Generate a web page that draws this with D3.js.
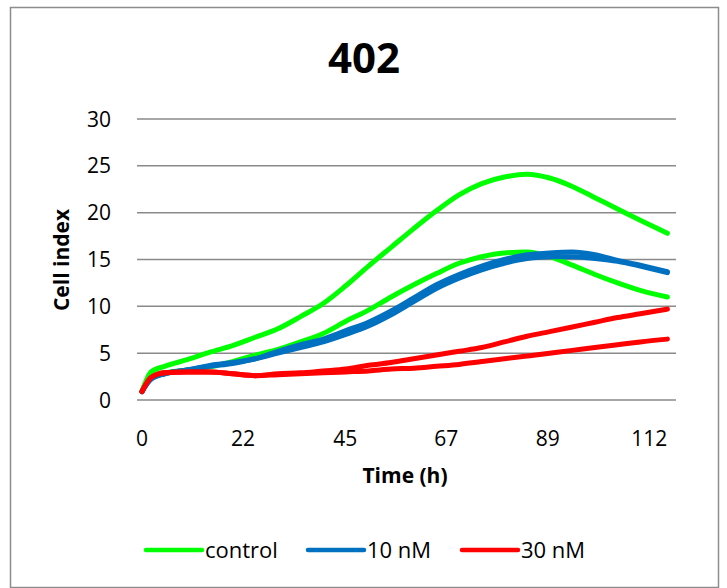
<!DOCTYPE html>
<html>
<head>
<meta charset="utf-8">
<script src="https://cdn.jsdelivr.net/npm/d3@7"></script>
<style>
  body { margin: 0; background: #fff; }
  text { font-family: "Open Sans", sans-serif; fill: #000; }
</style>
</head>
<body>
<div id="chart"></div>
<script>
// time points (h) and cell index readings, two wells per condition
const hours = [0, 2, 5, 10, 15, 20, 25, 30, 35, 40, 45, 50, 55, 60, 65, 70, 75, 80, 85, 90, 95, 100, 105, 110, 116];

const control1 = [0.9, 3.0, 3.6, 4.3, 5.1, 5.8, 6.7, 7.6, 8.9, 10.3, 12.2, 14.3, 16.3, 18.3, 20.2, 21.9, 23.1, 23.8, 24.1, 23.7, 22.8, 21.6, 20.4, 19.2, 17.8];
const control2 = [0.9, 2.6, 2.9, 3.2, 3.55, 4.1, 4.8, 5.4, 6.2, 7.1, 8.4, 9.6, 11.0, 12.3, 13.5, 14.6, 15.3, 15.7, 15.8, 15.3, 14.4, 13.4, 12.5, 11.7, 11.0];
const nm10a = [0.9, 2.2, 2.8, 3.2, 3.7, 4.0, 4.4, 5.2, 5.9, 6.5, 7.4, 8.3, 9.5, 10.9, 12.3, 13.4, 14.3, 15.0, 15.5, 15.7, 15.8, 15.5, 14.9, 14.4, 13.7];
const nm10b = [0.9, 2.3, 2.8, 3.2, 3.6, 3.9, 4.4, 5.0, 5.6, 6.2, 7.0, 7.9, 9.1, 10.5, 11.9, 13.0, 13.9, 14.6, 15.1, 15.3, 15.3, 15.1, 14.8, 14.3, 13.6];
const nm30a = [0.9, 2.4, 2.9, 3.0, 3.0, 2.8, 2.6, 2.8, 2.9, 3.1, 3.3, 3.7, 4.0, 4.4, 4.8, 5.2, 5.6, 6.2, 6.8, 7.3, 7.8, 8.3, 8.8, 9.2, 9.7];
const nm30b = [0.9, 2.4, 2.9, 3.0, 3.0, 2.8, 2.6, 2.7, 2.8, 2.9, 3.0, 3.1, 3.3, 3.4, 3.6, 3.8, 4.1, 4.4, 4.7, 5.0, 5.3, 5.6, 5.9, 6.2, 6.5];

const xTickHours = [0, 22.3, 44.9, 67.2, 89.6, 112];
const xTickLabels = ["0", "22", "45", "67", "89", "112"];
const yTicks = [0, 5, 10, 15, 20, 25, 30];

const legendNames = ["control", "10 nM", "30 nM"];
const colors = ["#00ff00", "#0070c0", "#ff0000"];

const series = [
  {values: control1, group: 0},
  {values: control2, group: 0},
  {values: nm10a, group: 1},
  {values: nm10b, group: 1},
  {values: nm30a, group: 2},
  {values: nm30b, group: 2}
];

const width = 727;
const height = 588;

const svg = d3.select("#chart")
  .append("svg")
  .attr("width", width)
  .attr("height", height);

// outer chart frame
svg.append("rect")
  .attr("x", 10.5)
  .attr("y", 7.5)
  .attr("width", 708)
  .attr("height", 580)
  .attr("fill", "#fff")
  .attr("stroke", "#8c8c8c")
  .attr("stroke-width", 1.5);

const xScale = d3.scaleLinear()
  .domain([-1.1, 117.9])
  .range([137, 676]);

const yScale = d3.scaleLinear()
  .domain([0, 30])
  .range([400, 119]);

// gridlines
svg.append("g")
  .selectAll("line")
  .data(yTicks)
  .enter()
  .append("line")
  .attr("x1", xScale.range()[0])
  .attr("x2", xScale.range()[1])
  .attr("y1", d => yScale(d))
  .attr("y2", d => yScale(d))
  .attr("stroke", "#8a8a8a")
  .attr("stroke-width", 1.5);

// y axis labels
svg.append("g")
  .selectAll("text")
  .data(yTicks)
  .enter()
  .append("text")
  .attr("x", 111)
  .attr("y", d => yScale(d))
  .attr("dy", "0.36em")
  .attr("text-anchor", "end")
  .style("font-size", "21px")
  .text(d => d);

// x axis labels
svg.append("g")
  .selectAll("text")
  .data(xTickHours)
  .enter()
  .append("text")
  .attr("x", d => xScale(d))
  .attr("y", 446)
  .attr("text-anchor", "middle")
  .style("font-size", "21px")
  .text((d, i) => xTickLabels[i]);

const line = d3.line()
  .x((d, i) => xScale(hours[i]))
  .y(d => yScale(d))
  .curve(d3.curveMonotoneX);

svg.append("g")
  .selectAll("path")
  .data(series)
  .enter()
  .append("path")
  .attr("d", d => line(d.values))
  .attr("fill", "none")
  .attr("stroke", d => colors[d.group])
  .attr("stroke-width", 5)
  .attr("stroke-linecap", "round")
  .attr("stroke-linejoin", "round");

// titles
svg.append("text")
  .attr("x", 364)
  .attr("y", 73)
  .attr("text-anchor", "middle")
  .style("font-size", "42px")
  .style("font-weight", "bold")
  .text("402");

svg.append("text")
  .attr("x", 405)
  .attr("y", 483)
  .attr("text-anchor", "middle")
  .style("font-size", "21px")
  .style("font-weight", "bold")
  .text("Time (h)");

svg.append("text")
  .attr("transform", "rotate(-90)")
  .attr("x", -260)
  .attr("y", 69)
  .attr("text-anchor", "middle")
  .style("font-size", "21px")
  .style("font-weight", "bold")
  .text("Cell index");

// legend
const legendX = [146, 308, 462];
const legend = svg.append("g")
  .selectAll("g")
  .data(legendNames)
  .enter()
  .append("g")
  .attr("transform", (d, i) => `translate(${legendX[i]}, 550)`);

legend.append("line")
  .attr("x1", 0)
  .attr("x2", 56)
  .attr("stroke", (d, i) => colors[i])
  .attr("stroke-width", 4.5)
  .attr("stroke-linecap", "round");

legend.append("text")
  .attr("x", 59)
  .attr("y", 8)
  .style("font-size", "22px")
  .text(d => d);
</script>
</body>
</html>
